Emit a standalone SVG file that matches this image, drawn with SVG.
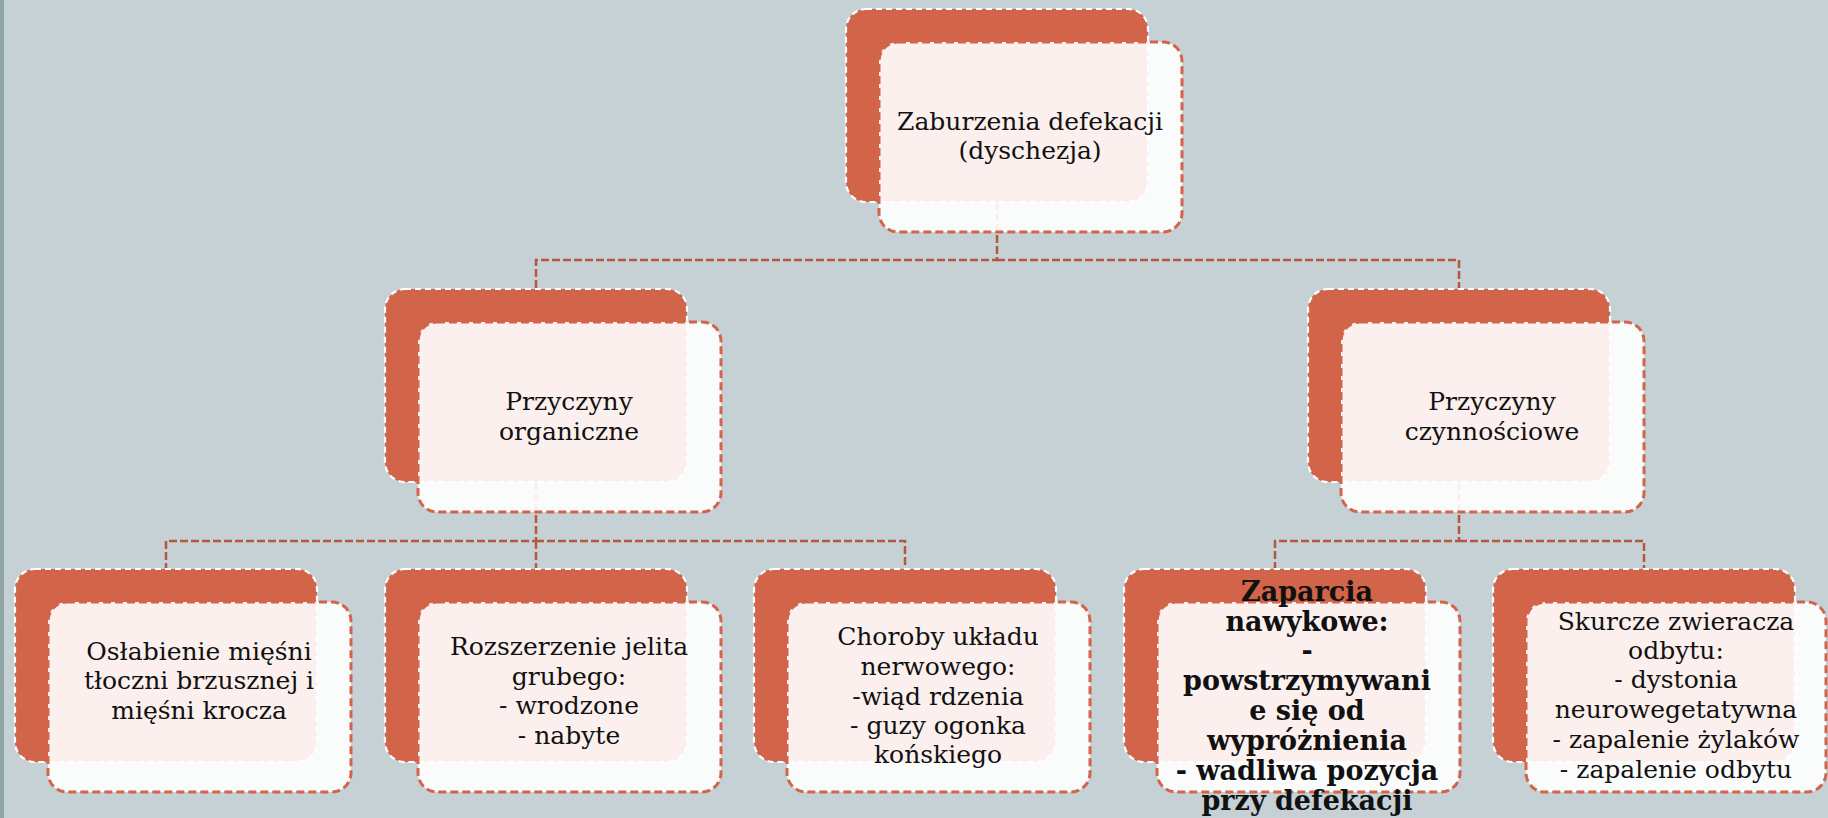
<svg xmlns="http://www.w3.org/2000/svg" width="1828" height="818" viewBox="0 0 1828 818">
<style>
.bg{fill:#c6d1d6}
.back{fill:#d2644a;stroke:#ffffff;stroke-width:2.2;stroke-dasharray:6 4}
.front{fill:#ffffff;fill-opacity:0.9;stroke:#d2644a;stroke-width:3;stroke-dasharray:8 4}
.conn{fill:none;stroke:#b5573f;stroke-width:2.5;stroke-dasharray:8 3}
text{font-family:"DejaVu Serif","Liberation Serif",serif;font-size:25px;fill:#111;text-anchor:middle}
.b{font-weight:bold;font-size:27px}
</style>
<rect class="bg" x="0" y="0" width="1828" height="818"/>
<rect x="0" y="0" width="4" height="818" fill="#8fa5a6"/>
<g id="connectors">
<path class="conn" d="M997 202 V260 H536 V289 M997 260 H1459 V289"/>
<path class="conn" d="M536 482 V541 H166 V569 M536 541 V569 M536 541 H905 V569"/>
<path class="conn" d="M1459 482 V541 H1275 V569 M1459 541 H1644 V569"/>
</g>
<g id="n-top">
<rect class="back" x="846" y="9" width="302" height="193" rx="20"/>
<rect class="front" x="879" y="42" width="303" height="190" rx="19"/>
<text x="1030" y="130">Zaburzenia defekacji</text>
<text x="1030" y="159">(dyschezja)</text>
</g>
<g id="n-organiczne">
<rect class="back" x="385" y="289" width="302" height="193" rx="20"/>
<rect class="front" x="418" y="322" width="303" height="190" rx="19"/>
<text x="569" y="410">Przyczyny</text>
<text x="569" y="440">organiczne</text>
</g>
<g id="n-czynnosciowe">
<rect class="back" x="1308" y="289" width="302" height="193" rx="20"/>
<rect class="front" x="1341" y="322" width="303" height="190" rx="19"/>
<text x="1492" y="410">Przyczyny</text>
<text x="1492" y="440">czynnościowe</text>
</g>
<g id="n-oslabienie">
<rect class="back" x="15" y="569" width="302" height="193" rx="20"/>
<rect class="front" x="48" y="602" width="303" height="190" rx="19"/>
<text x="199" y="660">Osłabienie mięśni</text>
<text x="199" y="689">tłoczni brzusznej i</text>
<text x="199" y="719">mięśni krocza</text>
</g>
<g id="n-rozszerzenie">
<rect class="back" x="385" y="569" width="302" height="193" rx="20"/>
<rect class="front" x="418" y="602" width="303" height="190" rx="19"/>
<text x="569" y="655">Rozszerzenie jelita</text>
<text x="569" y="685">grubego:</text>
<text x="569" y="714">- wrodzone</text>
<text x="569" y="744">- nabyte</text>
</g>
<g id="n-choroby">
<rect class="back" x="754" y="569" width="302" height="193" rx="20"/>
<rect class="front" x="787" y="602" width="303" height="190" rx="19"/>
<text x="938" y="645">Choroby układu</text>
<text x="938" y="675">nerwowego:</text>
<text x="938" y="705">-wiąd rdzenia</text>
<text x="938" y="734">- guzy ogonka</text>
<text x="938" y="763">końskiego</text>
</g>
<g id="n-zaparcia">
<rect class="back" x="1124" y="569" width="302" height="193" rx="20"/>
<rect class="front" x="1157" y="602" width="303" height="190" rx="19"/>
<text class="b" x="1307" y="601">Zaparcia</text>
<text class="b" x="1307" y="631">nawykowe:</text>
<text class="b" x="1307" y="660">-</text>
<text class="b" x="1307" y="690">powstrzymywani</text>
<text class="b" x="1307" y="720">e się od</text>
<text class="b" x="1307" y="750">wypróżnienia</text>
<text class="b" x="1307" y="780">- wadliwa pozycja</text>
<text class="b" x="1307" y="810">przy defekacji</text>
</g>
<g id="n-skurcze">
<rect class="back" x="1493" y="569" width="302" height="193" rx="20"/>
<rect class="front" x="1526" y="602" width="300" height="190" rx="19"/>
<text x="1676" y="630">Skurcze zwieracza</text>
<text x="1676" y="659">odbytu:</text>
<text x="1676" y="688">- dystonia</text>
<text x="1676" y="718">neurowegetatywna</text>
<text x="1676" y="748">- zapalenie żylaków</text>
<text x="1676" y="778">- zapalenie odbytu</text>
</g>
</svg>
